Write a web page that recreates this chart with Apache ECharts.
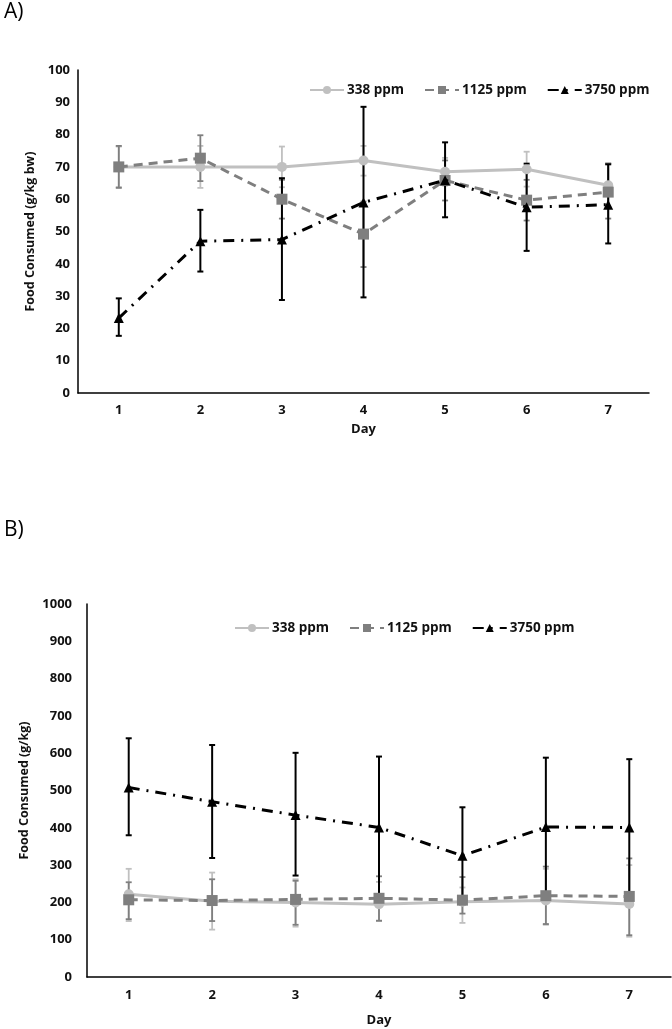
<!DOCTYPE html>
<html>
<head>
<meta charset="utf-8">
<script src="https://cdn.jsdelivr.net/npm/echarts@6/dist/echarts.min.js"></script>
<style>
  html, body { margin: 0; padding: 0; background: #fff; }
  #chart { width: 672px; height: 1029px; }
</style>
</head>
<body>
<div id="chart"></div>
<script>
const days = ['1', '2', '3', '4', '5', '6', '7'];

// Panel A (g/kg bw)
const a338 = [70, 70, 70, 72, 68.5, 69.3, 64.3];
const a338Hi = [76.3, 76.5, 76.3, 76.5, 72.8, 74.7, 71.2];
const a338Lo = [63.8, 63.5, 63.7, 67.3, 64.2, 63.9, 57.4];
const a1125 = [70, 72.7, 60, 49.2, 65.8, 59.7, 62.2];
const a1125Hi = [76.5, 79.8, 66, 59.3, 72, 66, 71];
const a1125Lo = [63.5, 65.6, 54, 39, 59.6, 53.4, 54];
const a3750 = [23.2, 47, 47.5, 59, 65.9, 57.5, 58.3];
const a3750Hi = [29.3, 56.7, 66.5, 88.6, 77.6, 71, 70.8];
const a3750Lo = [17.7, 37.6, 28.8, 29.6, 54.4, 44, 46.3];

// Panel B (g/kg)
const b338 = [222, 203, 200, 195, 202, 205, 196];
const b338Hi = [290, 280, 262, 255, 240, 290, 300];
const b338Lo = [150, 127, 135, 150, 145, 140, 108];
const b1125 = [207, 205, 208, 211, 206, 218, 216];
const b1125Hi = [254, 262, 258, 270, 268, 296, 318];
const b1125Lo = [155, 150, 140, 151, 170, 142, 112];
const b3750 = [508, 470, 434, 401, 325, 402, 401];
const b3750Hi = [640, 622, 601, 591, 455, 588, 584];
const b3750Lo = [380, 319, 272, 210, 195, 215, 218];

const names = ['338 ppm', '1125 ppm', '3750 ppm'];
const colors = ['#c0c0c0', '#7f7f7f', '#000000'];
const FONT = 'Open Sans';

const styles = [
  { symbol: 'circle', symbolSize: 10, lineStyle: { width: 3, type: 'solid' } },
  { symbol: 'rect', symbolSize: 11, lineStyle: { width: 3, type: [9, 6] } },
  { symbol: 'triangle', symbolSize: 10, lineStyle: { width: 3, type: [11, 7, 2, 7] } }
];

const errorBars = (idx, lo, hi, color) => ({
  type: 'custom',
  xAxisIndex: idx,
  yAxisIndex: idx,
  silent: true,
  z: 1,
  data: lo.map((l, i) => [i, l, hi[i]]),
  renderItem: (params, api) => {
    const low = api.coord([api.value(0), api.value(1)]);
    const high = api.coord([api.value(0), api.value(2)]);
    const w = 3;
    const style = { stroke: color, lineWidth: color === '#000000' ? 2 : 1.8 };
    return {
      type: 'group',
      children: [
        { type: 'line', shape: { x1: low[0], y1: low[1], x2: high[0], y2: high[1] }, style },
        { type: 'line', shape: { x1: low[0] - w, y1: low[1], x2: low[0] + w, y2: low[1] }, style },
        { type: 'line', shape: { x1: high[0] - w, y1: high[1], x2: high[0] + w, y2: high[1] }, style }
      ]
    };
  }
});

const lineSeries = (idx, values, k) => ({
  name: names[k],
  type: 'line',
  xAxisIndex: idx,
  yAxisIndex: idx,
  data: values,
  symbol: styles[k].symbol,
  symbolSize: styles[k].symbolSize,
  itemStyle: { color: colors[k] },
  lineStyle: { color: colors[k], ...styles[k].lineStyle },
  z: 2 + k
});

const textStyle = { fontFamily: FONT, fontWeight: 'bold', fontSize: 13, color: '#111' };

const makeX = (idx, gap, labelMargin) => ({
  type: 'category',
  gridIndex: idx,
  data: days,
  name: 'Day',
  nameLocation: 'middle',
  nameGap: gap,
  nameTextStyle: textStyle,
  axisLine: { lineStyle: { color: '#000', width: 1.5 } },
  axisTick: { show: false },
  axisLabel: { ...textStyle, margin: labelMargin }
});

const makeY = (idx, max, interval, name, gap, labelMargin) => ({
  type: 'value',
  gridIndex: idx,
  min: 0,
  max,
  interval,
  name,
  nameLocation: 'middle',
  nameGap: gap,
  nameTextStyle: { ...textStyle, fontSize: 12.5 },
  axisLine: { show: true, lineStyle: { color: '#000', width: 1.5 } },
  axisTick: { show: false },
  splitLine: { show: false },
  axisLabel: { ...textStyle, margin: labelMargin, formatter: v => String(v) }
});

const makeLegend = (left, top) => ({
  left,
  top,
  data: names,
  itemWidth: 34,
  itemHeight: 10,
  itemGap: 20,
  textStyle: { ...textStyle, fontSize: 13.5, padding: [0, 0, 0, -2] }
});

const chart = echarts.init(document.getElementById('chart'));

chart.setOption({
  animation: false,
  title: [
    { text: 'A)', left: -1, top: -3, textStyle: { fontFamily: FONT, fontWeight: 'normal', fontSize: 21, color: '#000' } },
    { text: 'B)', left: -1, top: 515, textStyle: { fontFamily: FONT, fontWeight: 'normal', fontSize: 21, color: '#000' } }
  ],
  legend: [makeLegend(304, 78), makeLegend(229, 616)],
  grid: [
    { left: 78, right: 23, top: 70, bottom: 636 },
    { left: 87, right: 1, top: 604, bottom: 52 }
  ],
  xAxis: [makeX(0, 30, 11), makeX(1, 37, 12)],
  yAxis: [
    makeY(0, 100, 10, 'Food Consumed (g/kg bw)', 41, 8),
    makeY(1, 1000, 100, 'Food Consumed (g/kg)', 52, 15)
  ],
  series: [
    errorBars(0, a338Lo, a338Hi, colors[0]),
    errorBars(0, a1125Lo, a1125Hi, colors[1]),
    errorBars(0, a3750Lo, a3750Hi, colors[2]),
    lineSeries(0, a338, 0),
    lineSeries(0, a1125, 1),
    lineSeries(0, a3750, 2),
    errorBars(1, b338Lo, b338Hi, colors[0]),
    errorBars(1, b1125Lo, b1125Hi, colors[1]),
    errorBars(1, b3750Lo, b3750Hi, colors[2]),
    lineSeries(1, b338, 0),
    lineSeries(1, b1125, 1),
    lineSeries(1, b3750, 2)
  ]
});
</script>
</body>
</html>
